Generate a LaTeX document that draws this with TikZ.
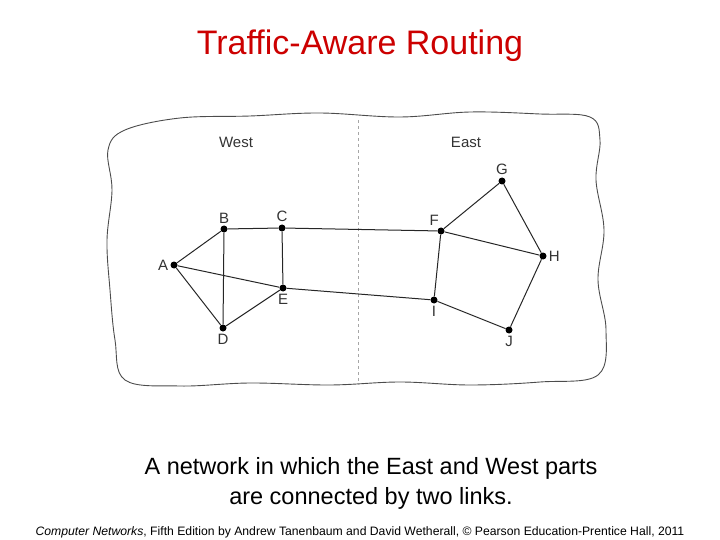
\documentclass[tikz,border=0pt]{standalone}
\usepackage{fontspec}
\setmainfont{Liberation Sans}
\begin{document}
\begin{tikzpicture}[x=1pt,y=-1pt,
 dot/.style={circle,fill=black,inner sep=0pt,minimum size=7pt},
 lab/.style={font=\fontsize{15}{16}\selectfont,text=black!80,inner sep=2pt},
 link/.style={black!85,line width=1pt}]
\useasboundingbox (0,0) rectangle (720,540);
\node[text={rgb,255:red,204;green,0;blue,0},font=\fontsize{34}{40}\selectfont] (title) at (360,46) {Traffic-Aware Routing};
\draw[black!70,line width=0.9pt] plot[smooth cycle,tension=0.6] coordinates{
(125,130)(180,118)(250,116)(320,113)(400,117)(470,112)(540,114)(590,117)(600,140)(596,180)(604,230)(598,280)(606,330)(598,375)(540,382)(470,385)(400,382)(330,385)(250,383)(180,386)(125,380)(115,340)(110,290)(107,240)(112,190)(108,150)};
\draw[black!35,dashed] (358,120) -- (358,385);
\node[lab] (w) at (236,142) {West};
\node[lab] (e) at (466,142) {East};
\node[dot] (A) at (174,265) {}; \node[lab,left] at (A.west) {A};
\node[dot] (B) at (224,229) {}; \node[lab,above] at (B.north) {B};
\node[dot] (C) at (282,228) {}; \node[lab,above] at (C.north) {C};
\node[dot] (D) at (223,328) {}; \node[lab,below] at (D.south) {D};
\node[dot] (E) at (283,288) {}; \node[lab,below] at (E.south) {E};
\node[dot] (F) at (441,231) {}; \node[lab,above left] at (F.north) {F};
\node[dot] (G) at (502,181) {}; \node[lab,above] at (G.north) {G};
\node[dot] (H) at (543,256) {}; \node[lab,right] at (H.east) {H};
\node[dot] (I) at (434,300) {}; \node[lab,below] at (I.south) {I};
\node[dot] (J) at (509,330) {}; \node[lab,below] at (J.south) {J};
\draw[link] (A)--(B) (A)--(D) (A)--(E) (B)--(C) (B)--(D) (C)--(E) (D)--(E)
 (C)--(F) (E)--(I) (F)--(G) (G)--(H) (F)--(H) (F)--(I) (H)--(J) (I)--(J);
\node[font=\fontsize{23.5}{30}\selectfont,align=center] (cap) at (371,483) {A network in which the East and West parts\\are connected by two links.};
\node[font=\fontsize{12.2}{14}\selectfont] (foot) at (360,532) {\textit{Computer Networks}, Fifth Edition by Andrew Tanenbaum and David Wetherall, © Pearson Education-Prentice Hall, 2011};
\end{tikzpicture}
\end{document}
